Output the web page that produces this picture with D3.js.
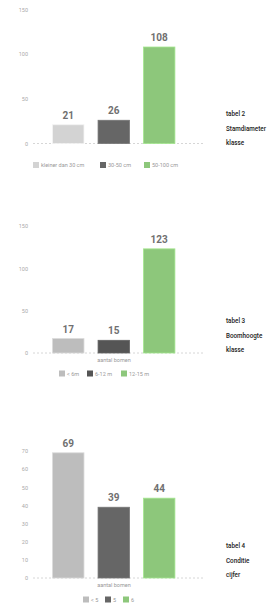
<!DOCTYPE html>
<html lang="en">
<head>
<meta charset="utf-8">
<title>Bomen</title>
<script src="https://cdn.jsdelivr.net/npm/d3@7"></script>
<style>
  body { margin: 0; background: #fff; }
  text { font-family: Roboto, "Noto Sans", sans-serif; }
</style>
</head>
<body>
<script>
// chart data
var cats2 = ["kleiner dan 30 cm", "30-50 cm", "50-100 cm"];
var vals2 = [21, 26, 108];
var ticks2 = [0, 50, 100, 150];
var notes2 = ["tabel 2", "Stamdiameter", "klasse"];

var cats3 = ["< 6m", "6-12 m", "12-15 m"];
var vals3 = [17, 15, 123];
var ticks3 = [0, 50, 100, 150];
var notes3 = ["tabel 3", "Boomhoogte", "klasse"];

var cats4 = ["< 5", "5", "6"];
var vals4 = [69, 39, 44];
var ticks4 = [0, 10, 20, 30, 40, 50, 60, 70];
var notes4 = ["tabel 4", "Conditie", "cijfer"];

var w = 270, h = 605;
var svg = d3.select("body").append("svg").attr("width", w).attr("height", h);

function drawChart(opt) {
  var g = svg.append("g").attr("transform", "translate(0," + opt.top + ")");

  var y = d3.scaleLinear().domain([0, opt.max]).range([opt.base, opt.base - opt.span]);
  var x = d3.scaleBand().domain(opt.cats).range([43.5, 184]).paddingInner(0.31).paddingOuter(0.2);

  // baseline
  g.append("line")
    .attr("x1", 33).attr("x2", 203)
    .attr("y1", y(0)).attr("y2", y(0))
    .attr("stroke", "#ccc").attr("stroke-width", 0.8)
    .attr("stroke-dasharray", "2,2");

  // y axis labels
  var yAxis = d3.axisLeft(y).tickValues(opt.ticks).tickSize(0).tickPadding(0);
  var ax = g.append("g").attr("transform", "translate(28,0)").call(yAxis);
  ax.select(".domain").remove();
  ax.selectAll("text").attr("fill", "#aaa").attr("font-size", "5.5px");

  // bars
  g.selectAll("rect.bar").data(opt.vals).enter().append("rect")
    .attr("class", "bar")
    .attr("x", function(d, i) { return x(opt.cats[i]); })
    .attr("width", x.bandwidth())
    .attr("y", function(d) { return y(d); })
    .attr("height", function(d) { return y(0) - y(d); })
    .attr("fill", function(d, i) { return opt.colors[i]; })
    .attr("stroke", function(d, i) { return d3.color(opt.colors[i]).brighter(0.4); })
    .attr("stroke-width", 0.8);

  // value labels
  g.selectAll("text.val").data(opt.vals).enter().append("text")
    .attr("class", "val")
    .attr("x", function(d, i) { return x(opt.cats[i]) + x.bandwidth() / 2; })
    .attr("y", function(d) { return y(d) - 6; })
    .attr("text-anchor", "middle")
    .attr("font-size", "10px")
    .attr("font-weight", "bold")
    .attr("fill", "#707070")
    .text(function(d) { return d; });

  // x title
  if (opt.xtitle) {
    g.append("text")
      .attr("x", 114).attr("y", y(0) + 9)
      .attr("text-anchor", "middle")
      .attr("font-size", "5.5px").attr("fill", "#999")
      .text(opt.xtitle);
  }

  // legend
  var lg = g.append("g").attr("transform", "translate(0," + (y(0) + opt.legendDy) + ")");
  opt.cats.forEach(function(c, i) {
    var lx = opt.legendX[i];
    lg.append("rect")
      .attr("x", lx).attr("y", -2.5).attr("width", 6).attr("height", 6)
      .attr("fill", opt.colors[i]);
    lg.append("text")
      .attr("x", lx + 8).attr("y", 2.5)
      .attr("font-size", "5.5px").attr("fill", "#999")
      .text(c);
  });

  // notes on the right
  opt.notes.forEach(function(n, i) {
    g.append("text")
      .attr("x", 226).attr("y", opt.noteY + i * 14.5)
      .attr("font-size", "6.3px").attr("font-weight", "500").attr("fill", "#222")
      .text(n);
  });
}

drawChart({
  top: 0, base: 143.5, span: 134, max: 150,
  cats: cats2, vals: vals2, ticks: ticks2, notes: notes2,
  colors: ["#d3d3d3", "#666666", "#8dc77b"],
  legendDy: 21, legendX: [33, 100, 144], noteY: 116
});

drawChart({
  top: 200, base: 153, span: 127, max: 150,
  cats: cats3, vals: vals3, ticks: ticks3, notes: notes3,
  colors: ["#bdbdbd", "#555555", "#8dc77b"],
  xtitle: "aantal bomen",
  legendDy: 20, legendX: [59, 87, 121], noteY: 123
});

drawChart({
  top: 400, base: 178, span: 127, max: 70,
  cats: cats4, vals: vals4, ticks: ticks4, notes: notes4,
  colors: ["#bdbdbd", "#666666", "#8dc77b"],
  xtitle: "aantal bomen",
  legendDy: 21, legendX: [83, 105, 123], noteY: 148
});
</script>
</body>
</html>
